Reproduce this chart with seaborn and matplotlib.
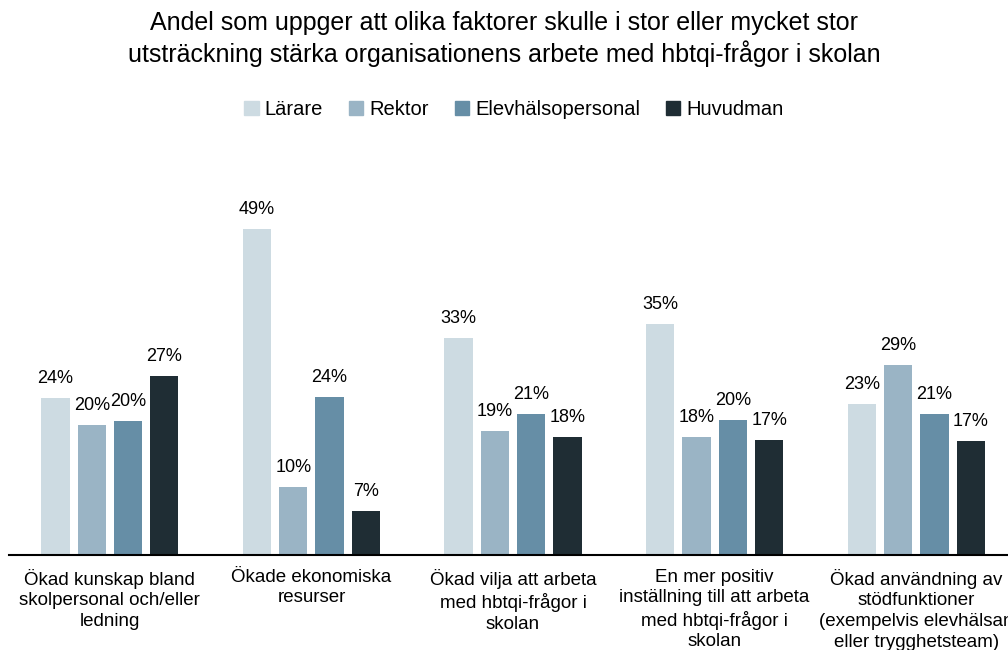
import numpy as np
import pandas as pd
import matplotlib.pyplot as plt
import seaborn as sns

categories = [
    "Ökad kunskap bland\nskolpersonal och/eller\nledning",
    "Ökade ekonomiska\nresurser",
    "Ökad vilja att arbeta\nmed hbtqi-frågor i\nskolan",
    "En mer positiv\ninställning till att arbeta\nmed hbtqi-frågor i\nskolan",
    "Ökad användning av\nstödfunktioner\n(exempelvis elevhälsan\neller trygghetsteam)",
]
groups = ["Lärare", "Rektor", "Elevhälsopersonal", "Huvudman"]
larare = [23.6, 49.0, 32.6, 34.7, 22.7]
rektor = [19.5, 10.2, 18.6, 17.8, 28.6]
elevhalsa = [20.1, 23.7, 21.2, 20.3, 21.2]
huvudman = [26.9, 6.6, 17.8, 17.3, 17.1]
colors = ["#cddbe2", "#9ab4c5", "#668ea6", "#1f2d34"]

rows = []
for g, vals in zip(groups, [larare, rektor, elevhalsa, huvudman]):
    for c, v in zip(categories, vals):
        rows.append({"Faktor": c, "Grupp": g, "Andel": v})
df = pd.DataFrame(rows)

sns.set_style("white")
plt.rcParams["font.family"] = ["Liberation Sans", "DejaVu Sans"]
plt.rcParams["text.color"] = "black"
plt.rcParams["xtick.color"] = "black"

fig = plt.figure(figsize=(10.08, 6.5), dpi=100)
ax = fig.add_axes([0.009, 0.146, 1.0, 0.614])
sns.barplot(data=df, x="Faktor", y="Andel", hue="Grupp", palette=colors,
            saturation=1, width=0.72, gap=0.22, linewidth=0, ax=ax, legend=True)

for cont in ax.containers:
    ax.bar_label(cont, labels=[f"{v:.0f}%" for v in cont.datavalues],
                 padding=8, fontsize=13)

ax.set_ylim(0, 60)
ax.set_xlim(-0.5, 4.5)
ax.set_xlabel("")
ax.set_ylabel("")
ax.set_yticks([])
ax.tick_params(axis="x", length=0, labelsize=13.5, pad=10)
for lab in ax.get_xticklabels():
    lab.set_linespacing(1.27)
for s in ["top", "right", "left"]:
    ax.spines[s].set_visible(False)
ax.spines["bottom"].set_linewidth(1.5)
ax.spines["bottom"].set_color("black")

ax.legend_.remove()
handles = [plt.Rectangle((0, 0), 1, 1, color=c) for c in colors]
fig.legend(handles, groups, loc="center", bbox_to_anchor=(0.51, 0.831), ncol=4,
           frameon=False, fontsize=14.5, handlelength=0.7, handleheight=0.7,
           handletextpad=0.3, columnspacing=1.3)

fig.suptitle("Andel som uppger att olika faktorer skulle i stor eller mycket stor\n"
             "utsträckning stärka organisationens arbete med hbtqi-frågor i skolan",
             y=0.983, fontsize=18, linespacing=1.25)

fig.savefig("out.png", dpi=100)
